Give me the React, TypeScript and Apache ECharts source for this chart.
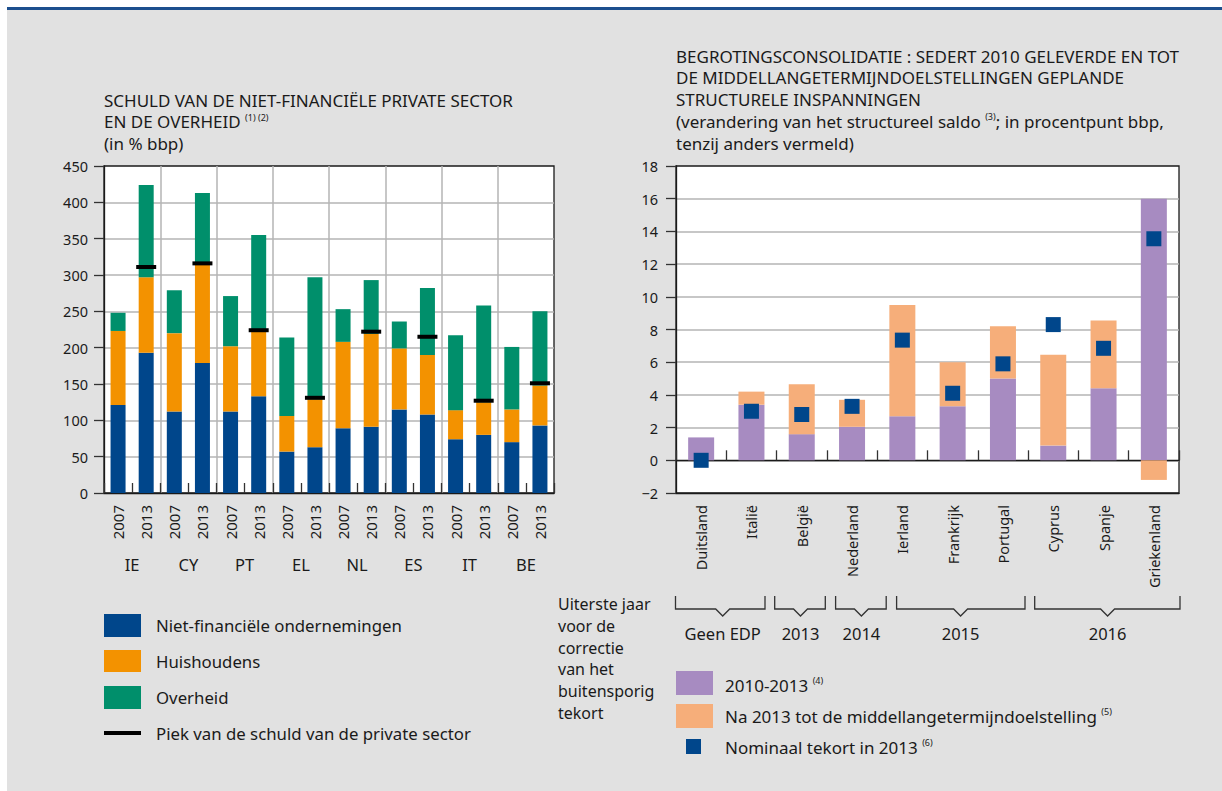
import React, { useEffect, useRef } from 'react';
import * as echarts from 'echarts';

// ---------- Left chart data ----------
const countries = ['IE', 'CY', 'PT', 'EL', 'NL', 'ES', 'IT', 'BE'];
const years = ['2007', '2013'];
const yearCats = countries.flatMap((c) => years.map((y) => `${c}|${y}`));
const nonFinCorp = [121, 193, 112, 179, 112, 133, 57, 63, 89, 91, 115, 108, 74, 80, 70, 93];
const households = [102, 104, 108, 135, 90, 89, 49, 66, 119, 128, 84, 82, 40, 45, 45, 55];
const government = [25, 127, 59, 99, 69, 133, 108, 168, 45, 74, 37, 92, 103, 133, 86, 102];
const privatePeak = [null, 311, null, 316, null, 224, null, 131, null, 222, null, 215, null, 127, null, 151];
const leftTicks = { min: 0, max: 450, interval: 50 };

// ---------- Right chart data ----------
const countries2 = ['Duitsland', 'Italië', 'België', 'Nederland', 'Ierland', 'Frankrijk', 'Portugal', 'Cyprus', 'Spanje', 'Griekenland'];
const effort2010to2013 = [1.4, 3.4, 1.6, 2.05, 2.7, 3.3, 5.0, 0.9, 4.4, 16.0];
const effortAfter2013 = [0, 0.8, 3.05, 1.65, 6.8, 2.7, 3.2, 5.55, 4.15, -1.2];
const nominalDeficit2013 = [0.0, 3.0, 2.8, 3.3, 7.35, 4.1, 5.9, 8.3, 6.85, 13.55];
const rightTicks = { min: -2, max: 18, interval: 2 };
const edpGroups = ['Geen EDP', '2013', '2014', '2015', '2016'];

const leftTitleLines = ['SCHULD VAN DE NIET-FINANCIËLE PRIVATE SECTOR', 'EN DE OVERHEID {s|(1) (2)}', '(in % bbp)'];
const rightTitleLines = [
  'BEGROTINGSCONSOLIDATIE : SEDERT 2010 GELEVERDE EN TOT',
  'DE MIDDELLANGETERMIJNDOELSTELLINGEN GEPLANDE',
  'STRUCTURELE INSPANNINGEN',
  '(verandering van het structureel saldo {s|(3)}; in procentpunt bbp,',
  'tenzij anders vermeld)',
];

const FONT = 'Noto Sans';
const TXT = '#1a1a1a';
const C_BLUE = '#00468b';
const C_ORANGE = '#f39200';
const C_GREEN = '#008f6b';
const C_PURPLE = '#a78bc1';
const C_LORANGE = '#f6ae7a';
const GRIDLINE = '#b4b4b4';

const sup = { fontSize: 9, fontFamily: FONT, fill: TXT, verticalAlign: 'top', lineHeight: 18 };

function lineText(x: number, y: number, text: string, fontSize: number, extra: any = {}) {
  return {
    type: 'text', x, y,
    style: {
      text, fontSize, fontFamily: FONT, fill: TXT, verticalAlign: 'middle', lineHeight: 18,
      rich: { s: sup }, ...extra,
    },
  };
}

function buildOption() {
  const bracketPos = [
    [675.5, 765, 722.7],
    [774.7, 825.3, 800.5],
    [835.6, 886.2, 861.4],
    [896.6, 1025, 960.6],
    [1034.7, 1180, 1107.6],
  ];
  const graphic: any[] = [
    { type: 'rect', shape: { x: 0, y: 0, width: 1222, height: 7 }, style: { fill: '#fff' }, silent: true },
    { type: 'rect', shape: { x: 0, y: 0, width: 7, height: 791 }, style: { fill: '#fff' }, silent: true },
    { type: 'rect', shape: { x: 7, y: 7, width: 1215, height: 3 }, style: { fill: '#1d4f8e' }, silent: true },
    // Left legend
    { type: 'rect', shape: { x: 104, y: 614, width: 37, height: 23 }, style: { fill: C_BLUE } },
    { type: 'rect', shape: { x: 104, y: 650, width: 37, height: 22 }, style: { fill: C_ORANGE } },
    { type: 'rect', shape: { x: 104, y: 686, width: 37, height: 23 }, style: { fill: C_GREEN } },
    { type: 'rect', shape: { x: 104, y: 731, width: 37, height: 4 }, style: { fill: '#000' } },
    lineText(156, 625, 'Niet-financiële ondernemingen', 16.8),
    lineText(156, 661, 'Huishoudens', 16.8),
    lineText(156, 697, 'Overheid', 16.8),
    lineText(156, 733, 'Piek van de schuld van de private sector', 16.8),
    // Right side note
    {
      type: 'text', x: 558, y: 593,
      style: { text: 'Uiterste jaar\nvoor de\ncorrectie\nvan het\nbuitensporig\ntekort', fontSize: 16, fontFamily: FONT, fill: TXT, lineHeight: 21.8 },
    },
    // Right legend
    { type: 'rect', shape: { x: 676, y: 671, width: 37, height: 24 }, style: { fill: C_PURPLE } },
    { type: 'rect', shape: { x: 676, y: 704, width: 37, height: 24 }, style: { fill: C_LORANGE } },
    { type: 'rect', shape: { x: 686, y: 739, width: 15, height: 15 }, style: { fill: C_BLUE } },
    lineText(725, 685, '2010-2013 {s|(4)}', 17),
    lineText(725, 716, 'Na 2013 tot de middellangetermijndoelstelling {s|(5)}', 17),
    lineText(725, 747, 'Nominaal tekort in 2013 {s|(6)}', 17),
  ];
  leftTitleLines.forEach((t, i) => graphic.push(lineText(104, 100 + i * 21.5, t, 17)));
  rightTitleLines.forEach((t, i) => graphic.push(lineText(676, 56 + i * 21.75, t, 17)));
  edpGroups.forEach((label, i) => {
    const [x1, x2, m] = bracketPos[i];
    graphic.push({
      type: 'polyline',
      shape: { points: [[x1, 596], [x1, 609], [m - 7, 609], [m, 616], [m + 7, 609], [x2, 609], [x2, 596]] },
      style: { stroke: '#333', lineWidth: 1.3, fill: 'none' },
    });
    graphic.push(lineText(m, 633, label, 16.5, { align: 'center' }));
  });

  const axisBlack = { show: true, lineStyle: { color: '#1a1a1a', width: 1.3 } };

  return {
    animation: false,
    backgroundColor: '#e1e1e1',
    textStyle: { fontFamily: FONT, color: TXT },
    grid: [
      { left: 104, top: 166, width: 450, height: 327, show: true, backgroundColor: '#fff', borderColor: '#1a1a1a', borderWidth: 1.3 },
      { left: 676, top: 166, width: 503, height: 327, show: true, backgroundColor: '#fff', borderColor: '#1a1a1a', borderWidth: 1.3 },
    ],
    xAxis: [
      {
        gridIndex: 0, type: 'category', data: yearCats, position: 'bottom',
        axisLine: { ...axisBlack, onZero: false },
        axisTick: { show: true, inside: true, length: 10, interval: 0, lineStyle: { color: '#333', width: 1.3 } },
        axisLabel: { rotate: 90, interval: 0, fontSize: 15, margin: 12, color: TXT, formatter: (v: string) => v.split('|')[1] },
        splitLine: { show: false },
      },
      {
        gridIndex: 0, type: 'category', data: countries, position: 'bottom',
        axisLine: { show: false, onZero: false },
        axisTick: { show: false },
        axisLabel: { interval: 0, fontSize: 16.5, margin: 63, color: TXT },
        splitLine: { show: true, interval: 0, showMinLine: false, showMaxLine: false, lineStyle: { color: GRIDLINE, width: 1.5 } },
      },
      {
        gridIndex: 1, type: 'category', data: countries2, position: 'bottom',
        axisLine: { ...axisBlack, onZero: false },
        axisTick: { show: false },
        axisLabel: { rotate: 90, interval: 0, fontSize: 14.5, margin: 12, color: TXT },
        splitLine: { show: false },
      },
      {
        gridIndex: 1, type: 'category', data: countries2, position: 'bottom',
        axisLine: { ...axisBlack, onZero: true },
        axisTick: { show: true, inside: true, length: 10, interval: 0, lineStyle: { color: '#333', width: 1.3 } },
        axisLabel: { show: false },
        splitLine: { show: false },
      },
    ],
    yAxis: [
      {
        gridIndex: 0, type: 'value', ...leftTicks,
        axisLine: axisBlack,
        axisTick: { show: true, length: 10, lineStyle: { color: '#333', width: 1.3 } },
        axisLabel: { fontSize: 14.5, margin: 16, color: TXT },
        splitLine: { show: true, showMinLine: false, showMaxLine: false, lineStyle: { color: GRIDLINE, width: 1.5 } },
      },
      {
        gridIndex: 1, type: 'value', ...rightTicks,
        axisLine: axisBlack,
        axisTick: { show: true, length: 10, lineStyle: { color: '#333', width: 1.3 } },
        axisLabel: { fontSize: 14.5, margin: 18, color: TXT, formatter: (v: number) => String(v).replace('-', '\u2212') },
        splitLine: { show: true, showMinLine: false, showMaxLine: false, lineStyle: { color: GRIDLINE, width: 1.5 } },
      },
    ],
    series: [
      { name: 'Niet-financiële ondernemingen', type: 'bar', xAxisIndex: 0, yAxisIndex: 0, stack: 'debt', barWidth: 15, data: nonFinCorp, itemStyle: { color: C_BLUE } },
      { name: 'Huishoudens', type: 'bar', xAxisIndex: 0, yAxisIndex: 0, stack: 'debt', barWidth: 15, data: households, itemStyle: { color: C_ORANGE } },
      { name: 'Overheid', type: 'bar', xAxisIndex: 0, yAxisIndex: 0, stack: 'debt', barWidth: 15, data: government, itemStyle: { color: C_GREEN } },
      {
        name: 'Piek van de schuld van de private sector', type: 'scatter', xAxisIndex: 0, yAxisIndex: 0,
        symbol: 'rect', symbolSize: [20, 4], z: 5, data: privatePeak, itemStyle: { color: '#000', opacity: 1 },
      },
      { name: '2010-2013', type: 'bar', xAxisIndex: 2, yAxisIndex: 1, stack: 'cons', barWidth: 26, data: effort2010to2013, itemStyle: { color: C_PURPLE } },
      { name: 'Na 2013 tot de middellangetermijndoelstelling', type: 'bar', xAxisIndex: 2, yAxisIndex: 1, stack: 'cons', barWidth: 26, data: effortAfter2013, itemStyle: { color: C_LORANGE } },
      {
        name: 'Nominaal tekort in 2013', type: 'scatter', xAxisIndex: 2, yAxisIndex: 1,
        symbol: 'rect', symbolSize: 15, z: 5, data: nominalDeficit2013, itemStyle: { color: C_BLUE, opacity: 1 },
      },
    ],
    graphic,
  };
}

export default function App() {
  const ref = useRef<HTMLDivElement>(null);
  useEffect(() => {
    document.body.style.margin = '0';
    const chart = echarts.init(ref.current as HTMLDivElement, null, { renderer: 'svg' });
    chart.setOption(buildOption() as any);
    return () => chart.dispose();
  }, []);
  return <div ref={ref} style={{ position: 'absolute', left: 0, top: 0, width: 1222, height: 791 }} />;
}
